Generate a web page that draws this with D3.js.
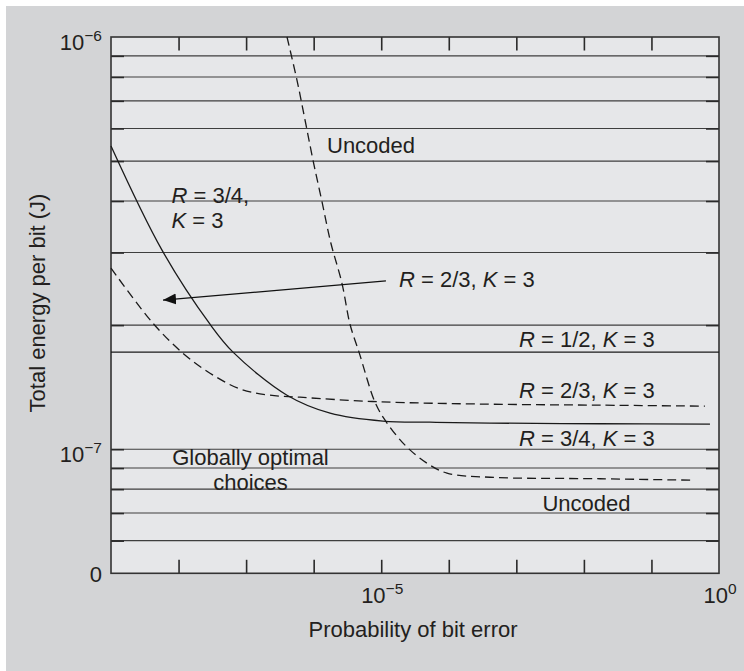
<!DOCTYPE html>
<html>
<head>
<meta charset="utf-8">
<script src="https://cdn.jsdelivr.net/npm/d3@7"></script>
<style>
  html, body { margin: 0; padding: 0; background: #ffffff; }
  svg { display: block; }
  text { font-family: "Liberation Sans", Arial, Helvetica, sans-serif; fill: #231f20; }
</style>
</head>
<body>
<svg id="chart" width="744" height="671"></svg>
<script>
// Total energy per bit versus probability of bit error, for several code choices.
// Each curve: [probability of bit error, energy per bit in joules]
const uncoded = [
  [4.03e-7, 1.0e-6], [5.66e-7, 7.86e-7], [7.45e-7, 6.29e-7], [9.77e-7, 5.03e-7],
  [1.33e-6, 3.98e-7], [1.80e-6, 3.16e-7], [2.62e-6, 2.53e-7], [3.45e-6, 2.01e-7],
  [4.69e-6, 1.72e-7], [8.09e-6, 1.30e-7], [1.14e-5, 1.176e-7], [2.25e-5, 1.023e-7],
  [4.75e-5, 9.25e-8], [9.40e-5, 8.75e-8], [4.07e-4, 8.55e-8], [1.73e-2, 8.48e-8],
  [4.12e-1, 8.41e-8]
];
const rate23 = [
  [1.0e-9, 2.75e-7], [4.19e-9, 2.02e-7], [1.16e-8, 1.71e-7], [2.92e-8, 1.529e-7],
  [8.11e-8, 1.40e-7], [2.04e-7, 1.355e-7], [6.28e-7, 1.337e-7], [8.65e-6, 1.304e-7],
  [4.07e-4, 1.286e-7], [1.73e-2, 1.279e-7], [6.19e-1, 1.272e-7]
];
const rate34 = [
  [1.0e-9, 5.44e-7], [5.69e-9, 3.04e-7], [2.92e-8, 2.01e-7], [6.40e-8, 1.72e-7],
  [4.03e-7, 1.352e-7], [1.75e-6, 1.223e-7], [1.06e-5, 1.17e-7],
  [5.27e-5, 1.163e-7], [4.07e-4, 1.157e-7], [1.73e-2, 1.153e-7], [7.35e-1, 1.15e-7]
];
const rate12 = [[1.0e-9, 1.72e-7], [1.0e0, 1.72e-7]];
// Pointer from the R = 2/3 label to its curve
const pointer = [[1.175e-5, 2.56e-7], [5.89e-9, 2.30e-7]];

// Axis ticks and labels
const xDomain = [1e-9, 1e0];
const yDomain = [5e-8, 1e-6];
const xTicks = [1e-8, 1e-7, 1e-6, 1e-5, 1e-4, 1e-3, 1e-2, 1e-1];
const xLabelValues = [1e-5, 1e0];
const xLabels = [["10", "−5"], ["10", "0"]];
const yGrid = [6e-8, 7e-8, 8e-8, 9e-8, 1e-7, 2e-7, 3e-7, 4e-7, 5e-7, 6e-7, 7e-7, 8e-7, 9e-7];
const yLabelValues = [1e-6, 1e-7, 5e-8];
const yLabels = [["10", "−6"], ["10", "−7"], ["0", ""]];

(function draw() {
  const svg = d3.select("#chart");
  const W = 744, H = 671;
  const plotL = 111, plotR = 719, plotT = 37, plotB = 573.3;
  const FS = 22;

  const x = d3.scaleLog().domain(xDomain).range([plotL, plotR]);
  const y = d3.scaleLog().domain(yDomain).range([plotB, plotT]);

  // Page background
  svg.append("rect").attr("x", 6).attr("y", 6).attr("width", W - 6).attr("height", H - 6)
    .attr("fill", "#d3d4d6");

  // Plot area
  svg.append("rect").attr("x", plotL).attr("y", plotT)
    .attr("width", plotR - plotL).attr("height", plotB - plotT)
    .attr("fill", "#e6e7e9");

  // Horizontal grid lines
  svg.append("g").selectAll("line").data(yGrid).join("line")
    .attr("x1", plotL).attr("x2", plotR)
    .attr("y1", d => y(d)).attr("y2", d => y(d))
    .attr("stroke", "#3e3e3e").attr("stroke-width", 1.1);

  // Tick marks on all four sides, pointing inward
  function tickAxis(axis, tx, ty) {
    const g = svg.append("g").attr("transform", `translate(${tx},${ty})`).call(axis);
    g.select(".domain").remove();
    g.selectAll(".tick line").attr("stroke", "#2a2a2a").attr("stroke-width", 1.6);
    g.selectAll(".tick text").remove();
    return g;
  }
  tickAxis(d3.axisLeft(y).tickValues(yGrid).tickSize(-13).tickFormat(""), plotL, 0);
  tickAxis(d3.axisRight(y).tickValues(yGrid).tickSize(-13).tickFormat(""), plotR, 0);
  tickAxis(d3.axisTop(x).tickValues(xTicks).tickSize(-13.5).tickFormat(""), 0, plotT);
  tickAxis(d3.axisBottom(x).tickValues(xTicks).tickSize(-13.5).tickFormat(""), 0, plotB);

  // Frame
  svg.append("rect").attr("x", plotL).attr("y", plotT)
    .attr("width", plotR - plotL).attr("height", plotB - plotT)
    .attr("fill", "none").attr("stroke", "#333333").attr("stroke-width", 1.6);

  // Curves
  const line = d3.line().x(d => x(d[0])).y(d => y(d[1])).curve(d3.curveCatmullRom.alpha(0.5));
  const curves = svg.append("g").attr("fill", "none").attr("stroke", "#1a1a1a").attr("stroke-width", 1.3);
  curves.append("path").attr("d", line(rate12));
  curves.append("path").attr("d", line(rate34));
  curves.append("path").attr("d", line(rate23)).attr("stroke-dasharray", "9,5");
  curves.append("path").attr("d", line(uncoded)).attr("stroke-dasharray", "9,5");

  // Pointer arrow
  svg.append("defs").append("marker")
    .attr("id", "head").attr("viewBox", "0 -6 13 12")
    .attr("refX", 13).attr("refY", 0)
    .attr("markerWidth", 13).attr("markerHeight", 12)
    .attr("markerUnits", "userSpaceOnUse").attr("orient", "auto")
    .append("path").attr("d", "M0,-5.5L13,0L0,5.5Z").attr("fill", "#111");
  svg.append("line")
    .attr("x1", x(pointer[0][0])).attr("y1", y(pointer[0][1]))
    .attr("x2", x(pointer[1][0])).attr("y2", y(pointer[1][1]))
    .attr("stroke", "#111").attr("stroke-width", 1.3)
    .attr("marker-end", "url(#head)");

  // Powers-of-ten labels: base plus raised exponent
  function powerLabel(g, parts) {
    g.append("tspan").text(parts[0]);
    if (parts[1]) {
      g.append("tspan").attr("font-size", 15.5).attr("dy", -9).text(parts[1]);
    }
  }
  xLabelValues.forEach((v, i) => {
    const t = svg.append("text").attr("x", x(v) + 1).attr("y", 602.7)
      .attr("font-size", FS).attr("text-anchor", "middle");
    powerLabel(t, xLabels[i]);
  });
  yLabelValues.forEach((v, i) => {
    const isPow = yLabels[i][1] !== "";
    const t = svg.append("text").attr("x", 102).attr("y", y(v) + (isPow ? 12.5 : 8.4))
      .attr("font-size", FS).attr("text-anchor", "end");
    powerLabel(t, yLabels[i]);
  });

  // Axis titles
  svg.append("text").attr("x", 413).attr("y", 637).attr("font-size", FS)
    .attr("text-anchor", "middle").text("Probability of bit error");
  svg.append("text").attr("transform", "translate(45,303) rotate(-90)")
    .attr("font-size", FS).attr("text-anchor", "middle").text("Total energy per bit (J)");

  // Curve annotations; *X* marks an italic symbol
  function richText(px, py, str, anchor) {
    const t = svg.append("text").attr("x", px).attr("y", py)
      .attr("font-size", FS).attr("text-anchor", anchor || "start");
    str.split(/(\*[^*]+\*)/).filter(s => s.length).forEach(s => {
      if (s.startsWith("*")) t.append("tspan").attr("font-style", "italic").text(s.slice(1, -1));
      else t.append("tspan").text(s);
    });
    return t;
  }
  richText(327, 153, "Uncoded");
  richText(171.5, 203.3, "*R* = 3/4,");
  richText(171.5, 228.3, "*K* = 3");
  richText(399, 286.7, "*R* = 2/3, *K* = 3");
  richText(519, 347.3, "*R* = 1/2, *K* = 3");
  richText(519, 398.3, "*R* = 2/3, *K* = 3");
  richText(519, 446, "*R* = 3/4, *K* = 3");
  richText(586.5, 510.7, "Uncoded", "middle");
  richText(250.5, 465, "Globally optimal", "middle");
  richText(250.5, 490, "choices", "middle");
})();
</script>
</body>
</html>
